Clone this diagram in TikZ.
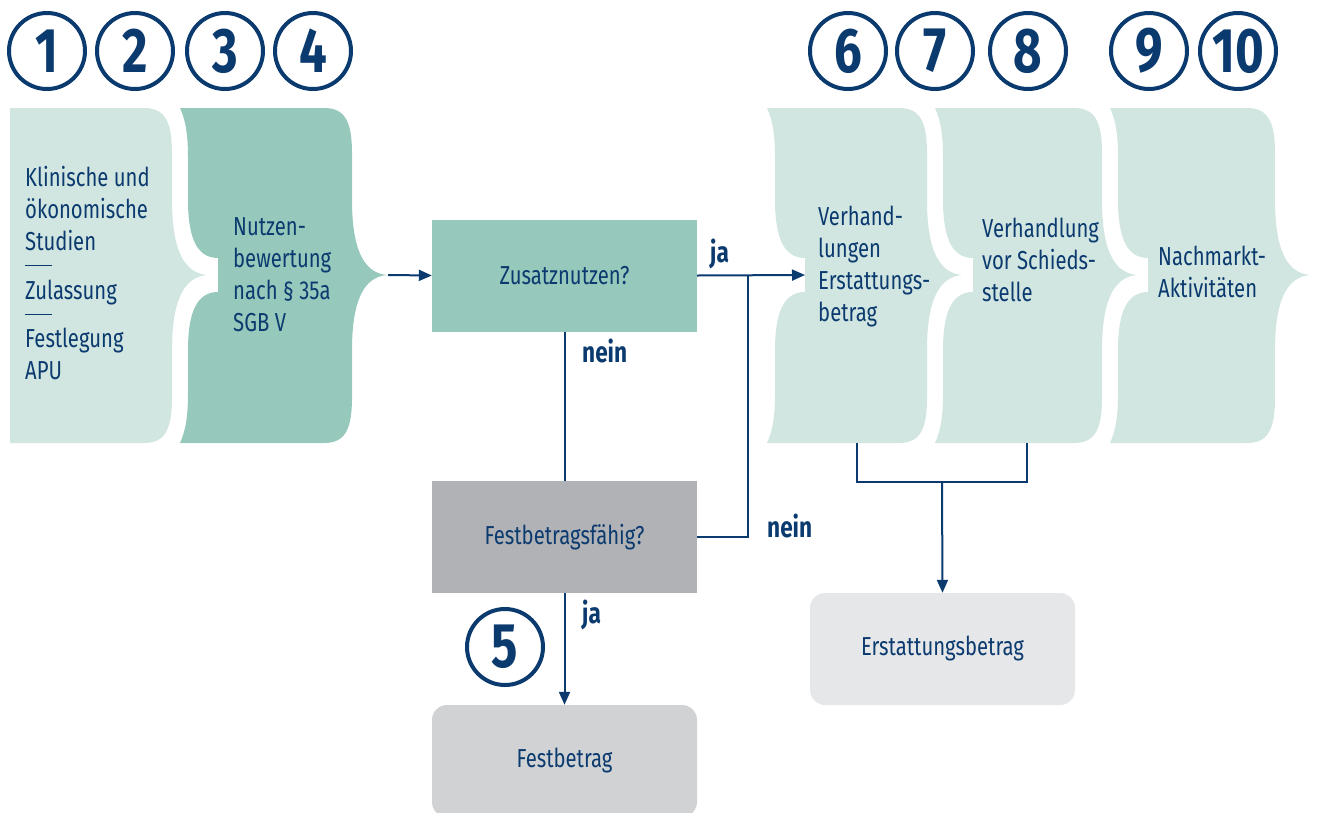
\documentclass[tikz,border=0pt]{standalone}
\usepackage{fontspec}
\setmainfont{Fira Sans}[FakeStretch=0.78]
\usetikzlibrary{arrows.meta,positioning}

\definecolor{ink}{HTML}{0B3A6F}
\definecolor{tealdark}{HTML}{96C8BC}
\definecolor{teallight}{HTML}{D2E6E1}
\definecolor{greydark}{HTML}{B1B2B5}
\definecolor{greymid}{HTML}{D1D2D4}
\definecolor{greylight}{HTML}{E6E7E9}

\tikzset{
  numcircle/.style={circle, draw=ink, line width=4pt, minimum size=76pt, inner sep=0pt,
    text=ink, font=\fontsize{63pt}{63pt}\selectfont\bfseries},
  phase/.style={anchor=west, align=left, inner sep=0pt, text=ink,
    font=\fontsize{26pt}{32pt}\selectfont},
  question/.style={minimum width=265pt, minimum height=112pt, inner sep=0pt, text=ink,
    font=\fontsize{26pt}{32pt}\selectfont},
  result/.style={question, rounded corners=15pt},
  answer/.style={anchor=base west, inner sep=0pt, text=ink,
    font=\fontsize{29pt}{29pt}\selectfont\bfseries},
  link/.style={draw=ink, line width=2pt},
  arr/.style={link, -{Triangle[length=13pt,width=11pt]}},
}

\begin{document}
\begin{tikzpicture}[x=1pt,y=-1pt]
  \useasboundingbox (0,0) rectangle (1320,812);

  % phases
  \fill[teallight] (10,108) -- (144,108) .. controls (164,108) and (172,120) .. (172,153)
    -- (172,200) .. controls (172,250) and (184,273) .. (207,275)
    .. controls (184,277) and (172,300) .. (172,350)
    -- (172,398) .. controls (172,431) and (164,443) .. (144,443)
    -- (10,443) -- cycle;
  \foreach \xl/\xr/\col in {180/352/tealdark,767/927/teallight,935/1102/teallight,1110/1275/teallight} {
  \fill[\col] (\xl,108) -- (\xr-28,108) .. controls (\xr-8,108) and (\xr,120) .. (\xr,153)
    -- (\xr,200) .. controls (\xr,250) and (\xr+12,273) .. (\xr+35,275)
    .. controls (\xr+12,277) and (\xr,300) .. (\xr,350)
    -- (\xr,398) .. controls (\xr,431) and (\xr-8,443) .. (\xr-28,443)
    -- (\xl,443) .. controls (\xl+6,430) and (\xl+8,415) .. (\xl+8,393)
    -- (\xl+8,350) .. controls (\xl+8,310) and (\xl+18,292) .. (\xl+38,292)
    -- (\xl+38,258) .. controls (\xl+18,258) and (\xl+8,240) .. (\xl+8,200)
    -- (\xl+8,158) .. controls (\xl+8,136) and (\xl+6,121) .. (\xl,108) -- cycle;
  }

  \node[phase] (studien) at (25,273) {Klinische und\\ökonomische\\Studien\\[-17pt]\rule{27pt}{0.8pt}\\[2pt]Zulassung\\[-17pt]\rule{27pt}{0.8pt}\\[1pt]Festlegung\\APU};
  \node[phase] (nutzen) at (233,275) {Nutzen-\\bewertung\\nach § 35a\\SGB V};
  \node[phase] (verhandlung) at (818,267) {Verhand-\\lungen\\Erstattungs-\\betrag};
  \node[phase] (schiedsstelle) at (982,260) {Verhandlung\\vor Schieds-\\stelle};
  \node[phase] (nachmarkt) at (1158,272) {Nachmarkt-\\Aktivitäten};

  % numbers
  \foreach \n/\x in {1/47,2/135,3/225,4/313,6/848,7/935,8/1028,9/1149,10/1238}
    \node[numcircle] (c\n) at (\x,51) {\n};
  \node[numcircle] (c5) at (505,647) {5};

  % decisions
  \node[question, fill=tealdark] (zusatz) at (564.5,275.5) {Zusatznutzen?};
  \node[question, fill=greydark] (festfaehig) at (564.5,537) {Festbetragsfähig?};
  \node[result, fill=greymid] (festbetrag) at (564.5,761) {Festbetrag};
  \node[result, fill=greylight] (erstattung) at (942.5,649) {Erstattungsbetrag};

  \coordinate (tip2) at (388,275);
  \coordinate (notch6) at (805,275);
  \coordinate (split) at (748,275);
  \coordinate (foot6) at (857,443);
  \coordinate (foot7) at (1027,443);
  \coordinate (join) at (942,482);

  \draw[arr] (tip2) -- (zusatz.west);
  \draw[arr] (zusatz.east) -- (notch6);
  \draw[link] (festfaehig.east) -| (split);
  \draw[link] (zusatz.south) -- (festfaehig.north);
  \draw[arr] (festfaehig.south) -- (festbetrag.north);
  \draw[link] (foot6) |- (join) -| (foot7);
  \draw[arr] (join) -- (erstattung.north);

  \node[answer] (ja1) at (710,262) {ja};
  \node[answer] (nein1) at (582,362) {nein};
  \node[answer] (nein2) at (767,537) {nein};
  \node[answer] (ja2) at (582,623) {ja};
\end{tikzpicture}
\end{document}
